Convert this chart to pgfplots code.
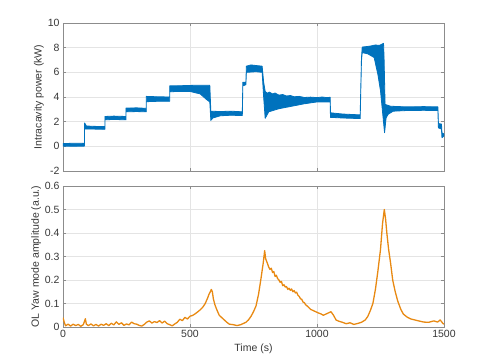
\documentclass[border=0pt]{standalone}
\usepackage{pgfplots}
\pgfplotsset{compat=1.18}
\usepackage{fontspec}
\setmainfont{Liberation Sans}
\definecolor{mblue}{RGB}{0,114,189}
\definecolor{morange}{RGB}{232,137,18}
\definecolor{gridc}{RGB}{228,228,228}
\definecolor{axc}{RGB}{140,140,140}
\definecolor{txt}{RGB}{55,55,55}

% power trace: upper envelope left to right, then lower envelope back
\pgfplotstableread{
t v
0 0.22
40 0.25
85 0.24
85 1.9
92 1.65
120 1.62
165 1.6
165 2.42
200 2.45
248 2.42
248 3.1
290 3.12
328 3.08
328 4.05
370 4.02
420 4.0
420 4.9
470 4.92
520 4.95
560 4.95
578 4.95
582 2.85
620 2.82
660 2.85
706 2.8
708 5.2
720 5.2
722 6.5
740 6.6
760 6.55
784 6.5
790 5.2
796 4.45
805 4.3
812 4.4
825 4.25
835 4.32
850 4.15
865 4.2
880 4.08
895 4.12
910 4.02
930 4.05
950 3.96
975 3.99
1000 3.95
1020 4.0
1035 3.96
1052 3.97
1053 2.72
1100 2.62
1170 2.55
1175 7.1
1178 8.05
1200 8.1
1215 8.15
1230 8.22
1245 8.18
1262 8.35
1264 7.2
1268 3.4
1290 3.25
1350 3.2
1420 3.22
1476 3.2
1478 1.85
1490 1.8
1492 1.1
1500 1.0
1500 0.85
1492 0.7
1490 1.4
1478 1.5
1476 2.9
1420 2.92
1350 2.9
1300 2.85
1280 2.6
1272 2.3
1266 1.1
1258 2.8
1250 4.5
1240 5.8
1225 7.2
1200 7.5
1178 7.6
1175 6.9
1170 2.25
1100 2.3
1053 2.35
1052 3.6
1000 3.6
950 3.45
900 3.25
850 3.05
810 2.8
796 2.27
790 4.0
784 6.0
760 6.05
722 6.0
720 5.0
708 4.9
706 2.5
660 2.52
620 2.48
590 2.3
582 2.1
578 3.6
565 3.8
540 4.25
500 4.45
450 4.45
420 4.42
420 3.65
370 3.65
328 3.62
328 2.8
290 2.82
248 2.8
248 2.15
200 2.18
165 2.15
165 1.38
120 1.4
85 1.4
85 0.02
40 0.0
0 0.02
}\powerdata

\pgfplotstableread{
t v
0 0.04
5 0.02
10 0.005
20 0.012
30 0.004
40 0.012
50 0.006
60 0.011
70 0.003
80 0.01
88 0.035
92 0.012
100 0.006
110 0.013
120 0.005
130 0.011
140 0.004
150 0.012
160 0.007
170 0.014
180 0.006
190 0.016
200 0.009
210 0.022
220 0.011
230 0.018
240 0.007
250 0.013
260 0.009
270 0.021
280 0.014
290 0.012
300 0.007
310 0.004
320 0.011
330 0.021
340 0.026
350 0.017
360 0.023
370 0.019
380 0.027
390 0.017
400 0.025
410 0.014
420 0.01
430 0.005
440 0.013
450 0.02
460 0.033
470 0.027
480 0.041
490 0.034
500 0.046
510 0.049
520 0.056
530 0.064
540 0.073
550 0.084
560 0.1
570 0.125
575 0.14
580 0.15
584 0.16
588 0.15
592 0.12
598 0.095
605 0.075
615 0.05
625 0.04
635 0.03
645 0.02
655 0.012
670 0.01
685 0.006
700 0.01
710 0.015
720 0.02
730 0.03
740 0.045
750 0.065
760 0.09
770 0.14
780 0.21
788 0.27
794 0.325
798 0.29
805 0.27
810 0.255
815 0.245
820 0.25
825 0.232
830 0.236
835 0.215
840 0.22
845 0.206
850 0.2
855 0.19
860 0.194
865 0.176
870 0.18
875 0.17
880 0.172
885 0.16
890 0.165
895 0.156
900 0.162
905 0.15
910 0.155
915 0.145
920 0.148
925 0.135
930 0.13
935 0.12
940 0.118
945 0.106
950 0.104
955 0.095
965 0.086
975 0.075
985 0.07
995 0.065
1005 0.06
1015 0.056
1025 0.05
1035 0.055
1045 0.06
1055 0.065
1065 0.05
1075 0.03
1085 0.025
1100 0.02
1115 0.014
1130 0.018
1145 0.011
1160 0.015
1175 0.02
1190 0.03
1200 0.045
1210 0.07
1220 0.1
1230 0.16
1240 0.24
1250 0.33
1258 0.44
1265 0.5
1270 0.46
1275 0.4
1282 0.33
1290 0.27
1298 0.2
1308 0.15
1318 0.11
1330 0.075
1340 0.055
1355 0.042
1370 0.034
1385 0.03
1400 0.026
1420 0.021
1440 0.02
1460 0.026
1475 0.021
1485 0.03
1495 0.016
1500 0.012
}\yawdata

\begin{document}
\begin{tikzpicture}
\path[use as bounding box] (0pt,0pt) rectangle (491pt,360pt);
\pgfplotsset{
  mat/.style={
    scale only axis, width=381pt,
    xmin=0, xmax=1500, xtick={0,500,1000,1500},
    xticklabel style={/pgf/number format/1000 sep={}},
    grid=major, major grid style={gridc, line width=0.5pt},
    axis line style={axc, line width=0.6pt},
    tick style={axc, line width=0.5pt},
    tick align=inside, major tick length=3pt,
    ticklabel style={font=\fontsize{10.5}{12}\selectfont, text=txt},
    label style={font=\fontsize{10.5}{12}\selectfont, text=txt},
    /pgf/number format/assume math mode=true,
    tick pos=both,
  }
}
\begin{axis}[mat, at={(63pt,189pt)}, anchor=south west, height=148pt,
  ymin=-2, ymax=10, ytick={-2,0,...,10},
  xticklabels={},
  ylabel={Intracavity power (kW)},
  ylabel style={yshift=-3pt}]
\addplot[draw=mblue, fill=mblue, line width=0.8pt, line join=round] table[x=t,y=v] {\powerdata};
\end{axis}
\begin{axis}[mat, at={(63pt,33pt)}, anchor=south west, height=141pt,
  ymin=0, ymax=0.6, ytick={0,0.1,...,0.6},
  yticklabel style={/pgf/number format/fixed, /pgf/number format/precision=1},
  xlabel={Time (s)},
  ylabel={OL Yaw mode amplitude (a.u.)},
  xlabel style={yshift=1pt},
  ylabel style={yshift=-3pt}]
\addplot[morange, line width=1.3pt, line join=round] table[x=t,y=v] {\yawdata};
\end{axis}
\end{tikzpicture}
\end{document}
